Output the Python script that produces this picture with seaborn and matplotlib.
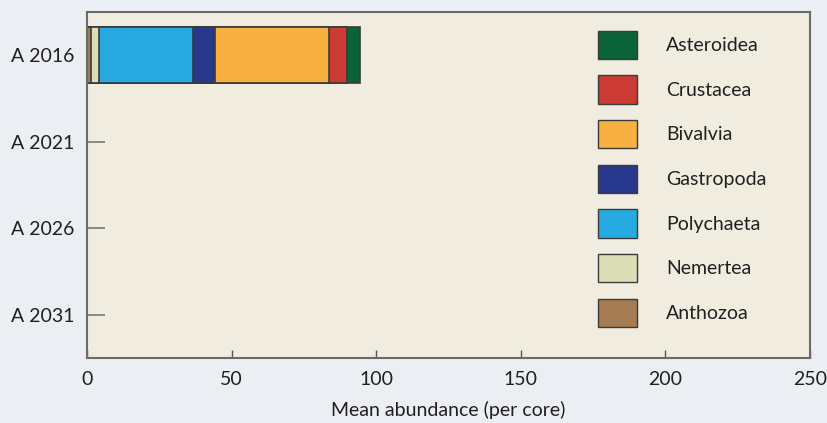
"""stacked abundance of taxa per core, horizontal bars"""

import numpy as np
import pandas as pd
import matplotlib
matplotlib.use("Agg")
import matplotlib.pyplot as plt
from matplotlib.patches import Patch
import seaborn as sns

years = ["A 2016", "A 2021", "A 2026", "A 2031"]
taxa = ["Anthozoa", "Nemertea", "Polychaeta", "Gastropoda",
        "Bivalvia", "Crustacea", "Asteroidea"]
# mean abundance per core, one list per taxon (values for each year)
anthozoa = [1.4, 0, 0, 0]
nemertea = [2.9, 0, 0, 0]
polychaeta = [32.3, 0, 0, 0]
gastropoda = [7.5, 0, 0, 0]
bivalvia = [39.5, 0, 0, 0]
crustacea = [6.4, 0, 0, 0]
asteroidea = [4.5, 0, 0, 0]

colours = {"Anthozoa": "#a67c52", "Nemertea": "#dbdfb6", "Polychaeta": "#27a9e1",
           "Gastropoda": "#27378c", "Bivalvia": "#f9b042", "Crustacea": "#cb3a33",
           "Asteroidea": "#0b6338"}

df = pd.DataFrame({"year": years, "Anthozoa": anthozoa, "Nemertea": nemertea,
                   "Polychaeta": polychaeta, "Gastropoda": gastropoda,
                   "Bivalvia": bivalvia, "Crustacea": crustacea,
                   "Asteroidea": asteroidea})

sns.set_style("white")
plt.rcParams["font.family"] = ["Lato", "DejaVu Sans"]
plt.rcParams["font.size"] = 14

fig = plt.figure(figsize=(8.28, 4.23), dpi=100, facecolor="#ebeef2")
ax = fig.add_axes([87 / 828, 1 - 358 / 423, 723 / 828, 346 / 423])
ax.set_facecolor("#f0ecdf")

# stacked bars: draw cumulative totals from the largest down
cum = df[taxa].cumsum(axis=1)
for t in reversed(taxa):
    sns.barplot(x=cum[t], y=df["year"], orient="h", color=colours[t],
                edgecolor="#3a3a3a", linewidth=1.2, width=0.65,
                saturation=1, ax=ax)

ax.set_xlim(0, 250)
ax.set_ylim(3.5, -0.5)
ax.set_xticks([0, 50, 100, 150, 200, 250])
ax.set_axisbelow(True)
ax.tick_params(axis="x", direction="in", length=6, width=1, color="#555555",
               pad=9, labelsize=14, labelcolor="#231f20", bottom=True)
ax.tick_params(axis="y", direction="in", length=13, width=1.2, color="#777777",
               pad=9, labelsize=14, labelcolor="#231f20", left=True)
ax.set_xlabel("Mean abundance (per core)", fontsize=14, color="#231f20", labelpad=10)
ax.set_ylabel("")

for side in ["left", "right", "top", "bottom"]:
    ax.spines[side].set_visible(True)
    ax.spines[side].set_color("#6b6b6b")
    ax.spines[side].set_linewidth(1.5)

handles = [Patch(facecolor=colours[t], edgecolor="#3a3a3a", linewidth=1, label=t)
           for t in reversed(taxa)]
ax.legend(handles=handles, loc="upper left",
          bbox_to_anchor=(588 / 828, 1 - 21 / 423), bbox_transform=fig.transFigure,
          frameon=False, borderpad=0, handlelength=2.0, handleheight=1.85,
          handletextpad=1.5, labelspacing=0.85, fontsize=14, labelcolor="#231f20")

fig.savefig("out.png", dpi=100, facecolor=fig.get_facecolor())
